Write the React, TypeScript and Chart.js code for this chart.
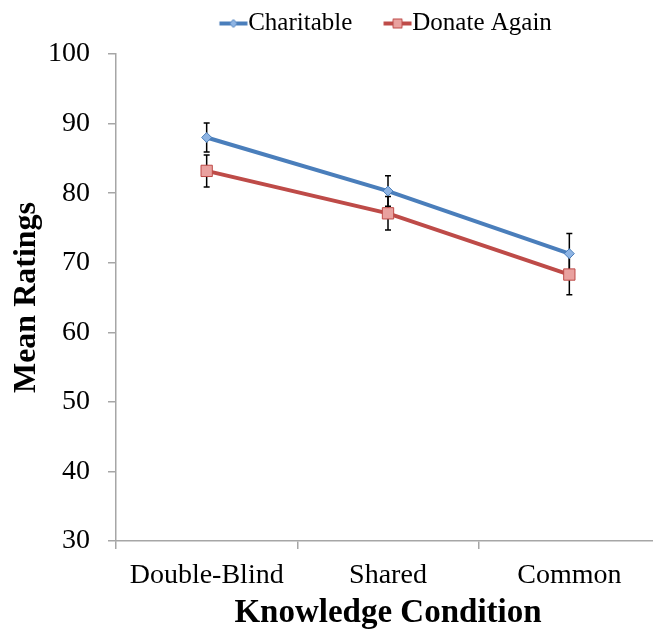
import React, { useEffect, useRef } from 'react';
import { Chart, registerables } from 'chart.js';
Chart.register(...registerables);

const categories = ['Double-Blind', 'Shared', 'Common'];
const charitable = [88.0, 80.3, 71.3];
const charitableErr = [2.1, 2.2, 2.9];
const donateAgain = [83.2, 77.1, 68.3];
const donateAgainErr = [2.3, 2.4, 2.9];
const seriesNames = ['Charitable', 'Donate Again'];
const yMin = 30;
const yMax = 100;
const yStep = 10;

const BLUE = '#4A7EBB';
const BLUE_FILL = '#8EB4E3';
const RED = '#BE4B48';
const RED_FILL = '#E9A19F';
const AXIS = '#A6A6A6';
const FONT = '"Liberation Serif", "Times New Roman", serif';

Chart.defaults.font.family = FONT;
Chart.defaults.color = '#000';

// legend sample: a short line with the marker in its middle
function legendIcon(color: string, fill: string, shape: 'diamond' | 'square'): HTMLCanvasElement {
  const c = document.createElement('canvas');
  c.width = 36;
  c.height = 12;
  const ctx = c.getContext('2d')!;
  const x0 = 7.5;
  const x1 = 35.5;
  const cx = (x0 + x1) / 2;
  ctx.strokeStyle = color;
  ctx.lineWidth = 4;
  ctx.beginPath();
  ctx.moveTo(x0, 6);
  ctx.lineTo(x1, 6);
  ctx.stroke();
  ctx.fillStyle = fill;
  ctx.lineWidth = 1;
  ctx.beginPath();
  if (shape === 'diamond') {
    ctx.moveTo(cx, 2);
    ctx.lineTo(cx + 4, 6);
    ctx.lineTo(cx, 10);
    ctx.lineTo(cx - 4, 6);
    ctx.closePath();
  } else {
    ctx.rect(cx - 4.5, 1.5, 9, 9);
  }
  ctx.fill();
  ctx.stroke();
  return c;
}

const errorBars = {
  id: 'errorBars',
  beforeDatasetsDraw(chart: any) {
    const ctx = chart.ctx;
    const y = chart.scales.y;
    const errs = [charitableErr, donateAgainErr];
    chart.data.datasets.forEach((ds: any, i: number) => {
      const meta = chart.getDatasetMeta(i);
      meta.data.forEach((pt: any, j: number) => {
        const v = ds.data[j];
        const e = errs[i][j];
        const top = y.getPixelForValue(v + e);
        const bot = y.getPixelForValue(v - e);
        ctx.save();
        ctx.strokeStyle = '#000';
        ctx.lineWidth = 1.5;
        ctx.beginPath();
        ctx.moveTo(pt.x, top);
        ctx.lineTo(pt.x, bot);
        ctx.moveTo(pt.x - 3, top);
        ctx.lineTo(pt.x + 3, top);
        ctx.moveTo(pt.x - 3, bot);
        ctx.lineTo(pt.x + 3, bot);
        ctx.stroke();
        ctx.restore();
      });
    });
  },
};

export default function App() {
  const ref = useRef<HTMLCanvasElement>(null);
  useEffect(() => {
    document.body.style.overflow = 'hidden';
    document.documentElement.style.overflow = 'hidden';
    const icons = [legendIcon(BLUE, BLUE_FILL, 'diamond'), legendIcon(RED, RED_FILL, 'square')];
    const chart = new Chart(ref.current!, {
      type: 'line',
      data: {
        labels: categories,
        datasets: [
          {
            label: seriesNames[0],
            data: charitable,
            borderColor: BLUE,
            backgroundColor: BLUE_FILL,
            borderWidth: 4,
            pointStyle: 'rectRot',
            pointRadius: 5,
            pointBorderWidth: 1,
            pointBorderColor: BLUE,
            pointBackgroundColor: BLUE_FILL,
          },
          {
            label: seriesNames[1],
            data: donateAgain,
            borderColor: RED,
            backgroundColor: RED_FILL,
            borderWidth: 4,
            pointStyle: 'rect',
            pointRadius: 8,
            pointBorderWidth: 1,
            pointBorderColor: RED,
            pointBackgroundColor: RED_FILL,
          },
        ],
      },
      options: {
        animation: false,
        responsive: true,
        maintainAspectRatio: false,
        layout: { padding: { left: 0, right: 10, top: -25, bottom: 0 } },
        plugins: {
          tooltip: { enabled: false },
          title: {
            display: true,
            text: '',
            weight: 2000,
            fullSize: false,
            font: { size: 8, lineHeight: 1 },
            padding: 0,
          },
          legend: {
            position: 'top',
            weight: 3000,
            fullSize: false,
            labels: {
              color: '#000',
              font: { family: FONT, size: 25 },
              usePointStyle: true,
              pointStyleWidth: 11.5,
              padding: 36,
              generateLabels: (ch: any) =>
                ch.data.datasets.map((ds: any, i: number) => ({
                  text: ds.label,
                  pointStyle: icons[i],
                  fillStyle: ds.backgroundColor,
                  strokeStyle: ds.borderColor,
                  lineWidth: 0,
                  hidden: false,
                  datasetIndex: i,
                  fontColor: '#000',
                })),
            },
          },
        },
        scales: {
          x: {
            type: 'category',
            offset: true,
            afterFit: (s: any) => { s.height = 90; },
            grid: { offset: true, drawOnChartArea: false, drawTicks: true, tickLength: 8, color: AXIS, lineWidth: 1.5 },
            border: { color: AXIS, width: 1.5 },
            ticks: { color: '#000', font: { family: FONT, size: 28 }, padding: 10 },
            title: {
              display: true,
              text: 'Knowledge Condition',
              color: '#000',
              font: { family: FONT, size: 33, weight: 'bold', lineHeight: 1.04 },
              padding: { top: 0, bottom: 0 },
            },
          },
          y: {
            min: yMin,
            max: yMax,
            afterFit: (s: any) => { s.width = 116; },
            grid: { drawOnChartArea: false, drawTicks: true, tickLength: 8, color: AXIS, lineWidth: 1.5 },
            border: { color: AXIS, width: 1.5 },
            ticks: { stepSize: yStep, color: '#000', font: { family: FONT, size: 28 }, padding: 18 },
            title: {
              display: true,
              text: 'Mean Ratings',
              color: '#000',
              font: { family: FONT, size: 32, weight: 'bold' },
              padding: { top: 8, bottom: 0 },
            },
          },
        },
      },
      plugins: [errorBars],
    });
    return () => chart.destroy();
  }, []);
  return (
    <div style={{ position: 'fixed', left: 0, top: 0, width: 670, height: 631 }}>
      <canvas ref={ref} />
    </div>
  );
}
